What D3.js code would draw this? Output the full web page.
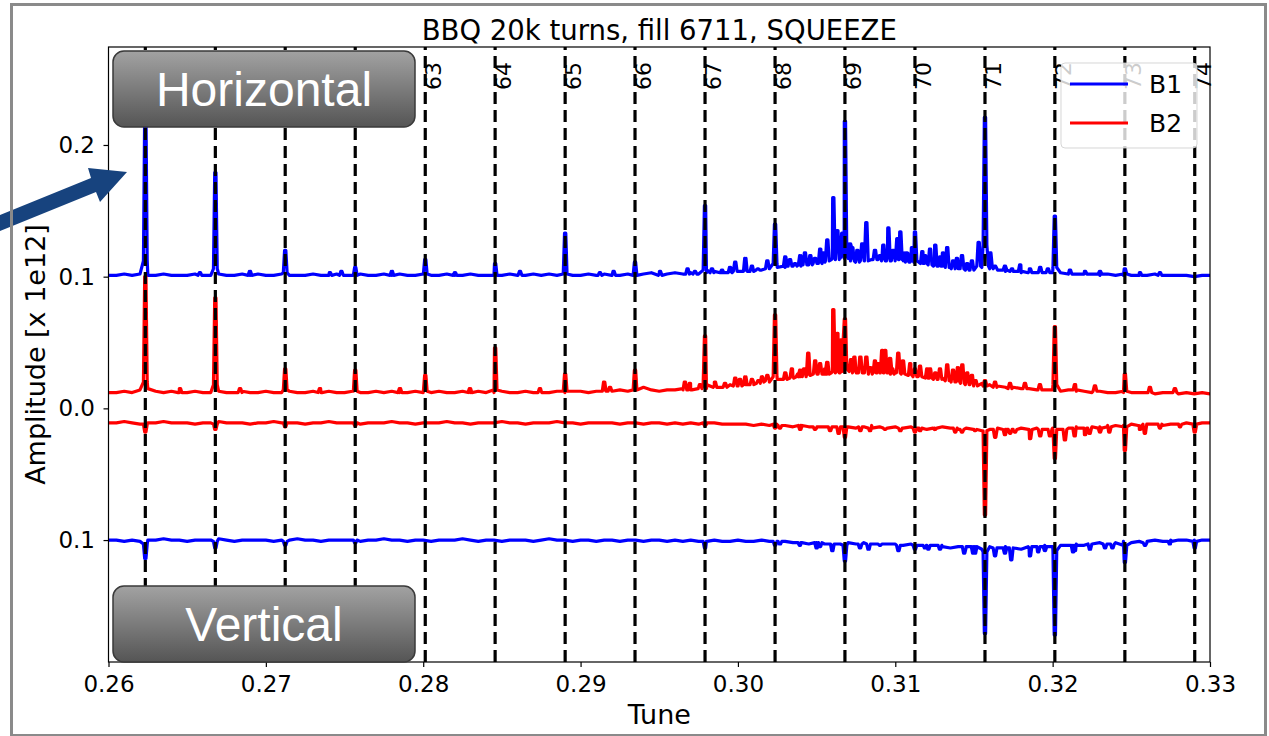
<!DOCTYPE html>
<html>
<head>
<meta charset="utf-8">
<script src="https://cdn.jsdelivr.net/npm/d3@7"></script>
<style>
  body { margin: 0; background: #fff; }
  svg { display: block; }
</style>
</head>
<body>
<svg id="chart" width="1269" height="736"></svg>
<script>
// ---------------------------------------------------------------
// BBQ spectra, 20k turns, fill 6711, SQUEEZE
// Amplitudes below are stored in thousandths of the axis unit (x 1e12).
// Horizontal traces sit around +0.1 (B1) and +0.013 (B2); vertical
// traces are drawn downward around -0.011 (B2) and -0.1 (B1).
// ---------------------------------------------------------------

// frequency bins of the spectrum (tune)
const tuneStart = 0.26, tuneStep = 0.0005, binCount = 141;
const tuneBins = d3.range(binCount).map(i => +(tuneStart + i * tuneStep).toFixed(4));

// 50 Hz harmonic lines and their harmonic numbers
const harmonicTunes  = [0.26234, 0.26679, 0.27123, 0.27568, 0.28013, 0.28457, 0.28902, 0.29346,
                        0.29791, 0.30236, 0.30680, 0.31125, 0.31570, 0.32014, 0.32459, 0.32903];
const harmonicLabels = [59, 60, 61, 62, 63, 64, 65, 66, 67, 68, 69, 70, 71, 72, 73, 74];

const xTicks = [0.26, 0.27, 0.28, 0.29, 0.30, 0.31, 0.32, 0.33];
const yTicks = [0.2, 0.1, 0.0, -0.1];

// --- B1 horizontal: background level per bin
const b1HBase = [
  101,101,102,101,102,101,101,102,101,101,
  101,102,101,101,102,101,101,102,101,102,
  101,101,102,101,101,101,102,101,101,102,
  101,101,102,101,101,102,101,102,101,101,
  102,101,101,102,101,101,102,101,101,102,
  101,102,101,101,102,101,102,101,102,101,
  101,102,101,102,101,101,102,101,102,103,
  102,102,103,102,103,102,103,104,103,104,
  104,105,104,105,106,107,107,108,108,109,
  111,112,114,115,114,113,114,113,114,115,
  114,113,112,111,111,109,108,107,106,106,
  105,107,106,105,104,104,103,104,103,103,
  103,103,102,102,102,102,101,102,101,101,
  101,101,101,102,101,101,101,101,100,101,101
];
// narrow lines: [tune, foot, top]
const b1HSpikes = [
  [0.26234,112,226],[0.26679,106,179],[0.27123,103,120],[0.27568,101,107],
  [0.28013,102,113],[0.28457,101,110],[0.28902,102,133],[0.29346,101,111],
  [0.29791,105,154],[0.30236,110,140],[0.30680,116,218],[0.31125,112,134],
  [0.31570,124,221],[0.32014,107,146],[0.32459,102,106],
  [0.26581,101,103],[0.26899,101,104],[0.27407,101,103],[0.2748,101,104],
  [0.27801,101,104],[0.28202,101,103],[0.28615,101,104],[0.29123,101,103],
  [0.2921,101,104],[0.29505,101,104],[0.2968,102,106],[0.29727,102,104],
  [0.29835,103,106],[0.29899,103,105],[0.29950,103,107],[0.29983,104,111],
  [0.30047,104,114],[0.30089,104,108],[0.30127,105,106],[0.30187,106,112],
  [0.30301,108,115],[0.30331,108,113],[0.30363,108,110],[0.30396,109,116],
  [0.30426,109,118],[0.30460,109,116],[0.30490,110,114],[0.30523,110,121],
  [0.30541,111,118],[0.30568,112,128],[0.30606,113,160],[0.30632,113,135],
  [0.30663,114,133],[0.30712,114,125],[0.30727,112,122],[0.30759,111,120],
  [0.30790,112,125],[0.30816,112,141],[0.30871,113,120],[0.30903,113,116],
  [0.30924,112,124],[0.30956,112,137],[0.30987,112,120],[0.31013,113,129],
  [0.31032,113,134],[0.31062,112,118],[0.31076,111,118],[0.31106,111,122],
  [0.31172,110,119],[0.31189,110,116],[0.31221,109,121],[0.31254,108,124],
  [0.31286,108,115],[0.31303,108,118],[0.31330,107,122],[0.31368,106,112],
  [0.31392,106,114],[0.31424,106,116],[0.31457,105,110],[0.31487,105,112],
  [0.31530,108,126],[0.31604,108,118],[0.31634,106,108],[0.31697,105,108],
  [0.31742,104,106],[0.31794,104,109],[0.31856,103,106],[0.31921,103,107],
  [0.31970,103,106],[0.32110,102,105],[0.32206,102,104],[0.32301,102,104],
  [0.32555,101,103],[0.32682,101,103]
];

// --- B2 horizontal
const b2HBase = [
  12,12,13,12,14,15,13,12,13,12,
  12,13,12,12,13,12,12,13,12,12,
  13,12,12,13,12,12,13,12,13,12,
  12,13,12,12,13,12,13,12,12,13,
  12,12,13,12,12,13,12,13,12,12,
  13,12,12,13,12,13,12,13,12,13,
  13,12,13,14,13,14,13,15,16,14,
  13,14,14,15,14,16,15,17,16,18,
  19,18,20,21,20,22,23,24,25,26,
  27,26,28,27,29,28,27,29,28,27,
  28,27,26,25,25,24,23,22,21,21,
  20,19,18,17,16,16,15,15,14,14,
  14,13,14,13,13,12,13,12,12,12,
  12,12,12,11,12,12,11,12,11,12,11
];
const b2HSpikes = [
  [0.26234,20,100],[0.26679,18,84],[0.27123,14,30],[0.27568,13,29],
  [0.28013,13,25],[0.28457,14,46],[0.28902,13,26],[0.29346,14,29],
  [0.29791,18,55],[0.30236,24,71],[0.30680,30,68],[0.31125,24,30],
  [0.31570,17,21],[0.32014,18,62],[0.32459,13,26],
  [0.26454,12,15],[0.26836,12,15],[0.27344,12,15],[0.27852,12,15],
  [0.28297,12,15],[0.28742,12,15],[0.2915,13,20],[0.29187,13,16],
  [0.29663,14,20],[0.29695,14,19],[0.29759,15,18],[0.29854,16,20],
  [0.29918,16,19],[0.29983,17,23],[0.30013,17,22],[0.30047,18,24],
  [0.30089,18,22],[0.30130,19,21],[0.30153,20,24],[0.30187,21,25],
  [0.30301,22,27],[0.30343,23,30],[0.30382,24,26],[0.30396,24,29],
  [0.30421,24,30],[0.30447,25,42],[0.30491,26,36],[0.30522,26,34],
  [0.30554,26,30],[0.30568,26,35],[0.30606,27,75],[0.30632,27,57],
  [0.30650,28,52],[0.30665,28,52],[0.30719,28,37],[0.30740,27,39],
  [0.30778,27,39],[0.30816,27,39],[0.30841,26,31],[0.30871,27,36],
  [0.30890,27,34],[0.30917,27,44],[0.30936,27,44],[0.30967,27,38],
  [0.30981,26,30],[0.31019,27,42],[0.31049,26,36],[0.31095,25,34],
  [0.31157,24,32],[0.31203,23,30],[0.31221,23,30],[0.31254,22,27],
  [0.31284,22,30],[0.31330,21,33],[0.31367,20,29],[0.31398,20,31],
  [0.31426,19,33],[0.31457,18,27],[0.31487,18,25],[0.31510,17,21],
  [0.31634,16,20],[0.31729,15,19],[0.31824,15,19],[0.31919,14,18],
  [0.32142,14,18],[0.32269,13,17],[0.32618,12,16],[0.32777,12,15]
];

// --- B2 vertical (drawn downward)
const b2VBase = [
  -11,-11,-10,-11,-12,-11,-11,-10,-11,-11,
  -11,-12,-11,-11,-10,-11,-11,-11,-12,-11,
  -11,-10,-11,-11,-11,-12,-11,-11,-10,-11,
  -11,-11,-12,-11,-11,-11,-10,-11,-11,-12,
  -11,-11,-11,-10,-11,-11,-12,-11,-11,-11,
  -10,-11,-11,-12,-11,-11,-11,-10,-11,-11,
  -12,-11,-11,-11,-11,-12,-11,-11,-12,-11,
  -11,-12,-11,-12,-11,-12,-12,-11,-12,-12,
  -12,-12,-13,-12,-13,-14,-13,-14,-13,-14,
  -15,-14,-14,-15,-14,-15,-14,-13,-14,-15,
  -14,-15,-14,-15,-16,-15,-14,-15,-16,-15,
  -16,-17,-16,-15,-16,-17,-15,-16,-15,-16,
  -15,-16,-15,-14,-15,-14,-14,-13,-13,-13,
  -12,-13,-12,-12,-13,-12,-12,-11,-12,-11,-11
];
const b2VSpikes = [
  [0.26234,-12,-18],[0.26679,-12,-16],[0.27123,-11,-14],[0.27568,-11,-13],
  [0.29791,-11,-13],[0.30236,-12,-15],[0.30680,-14,-22],[0.31125,-15,-18],
  [0.31570,-17,-81],[0.32014,-16,-38],[0.32459,-14,-32],[0.32903,-12,-18],
  [0.30267,-13,-15],[0.30396,-13,-16],[0.30490,-14,-16],[0.30586,-14,-17],
  [0.30640,-14,-19],[0.30778,-14,-17],[0.30840,-15,-17],[0.30935,-15,-16],
  [0.31032,-15,-17],[0.31157,-15,-17],[0.31252,-15,-16],[0.31381,-15,-18],
  [0.31424,-16,-18],[0.31507,-16,-17],[0.31635,-16,-22],[0.31697,-16,-20],
  [0.31730,-16,-19],[0.31761,-16,-18],[0.31857,-16,-23],[0.31921,-16,-21],
  [0.31983,-16,-21],[0.32078,-16,-24],[0.32140,-15,-21],[0.32206,-15,-20],
  [0.32235,-15,-19],[0.32301,-15,-18],[0.32360,-14,-18],[0.32555,-13,-16],
  [0.32586,-12,-19],[0.32682,-12,-15],[0.32809,-12,-14]
];

// --- B1 vertical (drawn downward)
const b1VBase = [
  -100,-100,-101,-100,-101,-100,-100,-99,-100,-100,
  -101,-100,-100,-100,-99,-100,-101,-100,-100,-100,
  -100,-101,-100,-100,-99,-100,-100,-101,-100,-100,
  -100,-100,-101,-100,-100,-99,-100,-100,-101,-100,
  -100,-101,-100,-100,-100,-99,-100,-101,-100,-100,
  -101,-100,-100,-100,-101,-100,-99,-100,-100,-101,
  -100,-100,-101,-100,-100,-101,-100,-100,-101,-100,
  -100,-101,-100,-101,-100,-101,-101,-100,-101,-101,
  -100,-101,-101,-100,-101,-102,-101,-102,-102,-103,
  -102,-103,-104,-103,-102,-103,-102,-103,-104,-103,
  -103,-104,-103,-104,-105,-104,-105,-106,-105,-106,
  -106,-107,-105,-106,-105,-106,-107,-106,-105,-104,
  -105,-104,-104,-103,-104,-103,-102,-103,-102,-101,
  -102,-101,-101,-100,-101,-100,-100,-100,-100,-100,-100
];
const b1VSpikes = [
  [0.26234,-103,-114],[0.26679,-101,-106],[0.27123,-101,-104],[0.27568,-100,-102],
  [0.29791,-101,-106],[0.30236,-101,-104],[0.30680,-104,-116],[0.31125,-104,-107],
  [0.31570,-109,-171],[0.32014,-108,-172],[0.32459,-104,-117],[0.32903,-101,-106],
  [0.30267,-101,-103],[0.30394,-102,-104],[0.30500,-102,-106],[0.30522,-102,-105],
  [0.30600,-103,-108],[0.30776,-103,-106],[0.30830,-103,-107],[0.30903,-103,-104],
  [0.31020,-104,-108],[0.31189,-104,-106],[0.31210,-104,-107],[0.31284,-104,-107],
  [0.31438,-105,-110],[0.31495,-105,-110],[0.31507,-105,-110],[0.31634,-106,-112],
  [0.31697,-106,-110],[0.31737,-106,-115],[0.31856,-105,-112],[0.31908,-105,-109],
  [0.31951,-105,-108],[0.32130,-104,-109],[0.32142,-104,-108],[0.32237,-103,-107],
  [0.32333,-103,-106],[0.32380,-103,-106],[0.32587,-102,-104],[0.32745,-101,-103]
];

const legendNames = ["B1", "B2"];
const beamColors = { B1: "#0000ff", B2: "#ff0000" };

// ---------------------------------------------------------------
const svg = d3.select("#chart");
const W = 1269, H = 736;
const plot = { left: 108.5, right: 1210, top: 47, bottom: 662 };

const x = d3.scaleLinear().domain([0.26, 0.33]).range([plot.left, plot.right]);
const y = d3.scaleLinear().domain([-0.1926, 0.2744]).range([plot.bottom, plot.top]);

// a spike spans a couple of FFT bins around its centre
const binWidth = 0.00008;
function buildTrace(base, spikes) {
  const pts = tuneBins.map((t, i) => [t, base[i]]);
  spikes.forEach(([t, foot, top]) => {
    pts.push([t - 1.5 * binWidth, foot], [t - 0.5 * binWidth, top],
             [t + 0.5 * binWidth, top], [t + 1.5 * binWidth, foot]);
  });
  pts.sort((a, b) => a[0] - b[0]);
  return pts.map(([t, v]) => [t, v / 1000]);
}

const traces = [
  { beam: "B1", pts: buildTrace(b1HBase, b1HSpikes) },
  { beam: "B2", pts: buildTrace(b2HBase, b2HSpikes) },
  { beam: "B2", pts: buildTrace(b2VBase, b2VSpikes) },
  { beam: "B1", pts: buildTrace(b1VBase, b1VSpikes) }
];

svg.append("rect").attr("width", W).attr("height", H).attr("fill", "#fff");

const defs = svg.append("defs");
defs.append("clipPath").attr("id", "plotClip")
  .append("rect")
  .attr("x", plot.left).attr("y", plot.top)
  .attr("width", plot.right - plot.left).attr("height", plot.bottom - plot.top);

// spectra
const line = d3.line().x(d => x(d[0])).y(d => y(d[1]));
svg.append("g").attr("clip-path", "url(#plotClip)")
  .selectAll("path").data(traces).join("path")
  .attr("d", d => line(d.pts))
  .attr("fill", "none")
  .attr("stroke", d => beamColors[d.beam])
  .attr("stroke-width", 3.2)
  .attr("stroke-linejoin", "round")
  .attr("stroke-linecap", "round");

// harmonic markers
svg.append("g").selectAll("line").data(harmonicTunes).join("line")
  .attr("x1", d => x(d)).attr("x2", d => x(d))
  .attr("y1", plot.bottom).attr("y2", plot.top)
  .attr("stroke", "#000").attr("stroke-width", 3.2)
  .attr("stroke-dasharray", "12,6");

svg.append("g").selectAll("text").data(harmonicTunes).join("text")
  .attr("transform", d => `translate(${x(d) + 16},62) rotate(-90)`)
  .attr("text-anchor", "end")
  .attr("font-family", "DejaVu Sans")
  .attr("font-size", 22)
  .attr("fill", "#000")
  .text((d, i) => harmonicLabels[i]);

// axes
const xAxis = d3.axisBottom(x).tickValues(xTicks).tickFormat(d3.format(".2f")).tickSize(5).tickPadding(9);
const yAxis = d3.axisLeft(y).tickValues(yTicks).tickFormat(d => Math.abs(d).toFixed(1)).tickSize(5).tickPadding(8.5);

const gx = svg.append("g").attr("transform", `translate(0,${plot.bottom})`).call(xAxis);
const gy = svg.append("g").attr("transform", `translate(${plot.left},0)`).call(yAxis);
[gx, gy].forEach(g => {
  g.select(".domain").remove();
  g.selectAll(".tick line").attr("stroke", "#000").attr("stroke-width", 1.2);
  g.selectAll(".tick text").attr("font-family", "DejaVu Sans").attr("font-size", 23).attr("fill", "#000");
});

svg.append("rect")
  .attr("x", plot.left).attr("y", plot.top)
  .attr("width", plot.right - plot.left).attr("height", plot.bottom - plot.top)
  .attr("fill", "none").attr("stroke", "#000").attr("stroke-width", 1.2);

// titles
svg.append("text")
  .attr("x", (plot.left + plot.right) / 2).attr("y", 40)
  .attr("text-anchor", "middle")
  .attr("font-family", "DejaVu Sans").attr("font-size", 27.5)
  .text("BBQ 20k turns, fill 6711, SQUEEZE");

svg.append("text")
  .attr("x", (plot.left + plot.right) / 2).attr("y", 724)
  .attr("text-anchor", "middle")
  .attr("font-family", "DejaVu Sans").attr("font-size", 27)
  .text("Tune");

svg.append("text")
  .attr("transform", `translate(45,${(plot.top + plot.bottom) / 2}) rotate(-90)`)
  .attr("text-anchor", "middle")
  .attr("font-family", "DejaVu Sans").attr("font-size", 27)
  .text("Amplitude [x 1e12]");

// legend
const lg = svg.append("g");
lg.append("rect")
  .attr("x", 1061).attr("y", 63).attr("width", 136).attr("height", 85).attr("rx", 4)
  .attr("fill", "#fff").attr("fill-opacity", 0.8)
  .attr("stroke", "#cccccc").attr("stroke-opacity", 0.8).attr("stroke-width", 1);
legendNames.forEach((name, i) => {
  const ly = 84 + i * 39;
  lg.append("line")
    .attr("x1", 1070).attr("x2", 1128).attr("y1", ly).attr("y2", ly)
    .attr("stroke", beamColors[name]).attr("stroke-width", 3);
  lg.append("text")
    .attr("x", 1149).attr("y", ly + 9)
    .attr("font-family", "DejaVu Sans").attr("font-size", 25)
    .text(name);
});

// plane tags
const grad = defs.append("linearGradient")
  .attr("id", "tagFill").attr("x1", 0).attr("y1", 0).attr("x2", 0).attr("y2", 1);
grad.append("stop").attr("offset", "0%").attr("stop-color", "#a2a2a2");
grad.append("stop").attr("offset", "100%").attr("stop-color", "#555555");

const tags = [
  { text: "Horizontal", x: 113, y: 51 },
  { text: "Vertical", x: 113, y: 586 }
];
const tg = svg.append("g").selectAll("g").data(tags).join("g")
  .attr("transform", d => `translate(${d.x},${d.y})`);
tg.append("rect")
  .attr("width", 302).attr("height", 76).attr("rx", 11)
  .attr("fill", "url(#tagFill)").attr("stroke", "#3a3a3a").attr("stroke-width", 1.5);
tg.append("text")
  .attr("x", 151).attr("y", 55)
  .attr("text-anchor", "middle")
  .attr("font-family", "Liberation Sans").attr("font-size", 48)
  .attr("fill", "#fff")
  .text(d => d.text);

// pointer arrow
svg.append("path")
  .attr("d", "M0,215 L91,178 L88,168 L127,172 L100,202 L96,192 L0,231 Z")
  .attr("fill", "#17437e");

// frame around the figure
svg.append("rect")
  .attr("x", 11.5).attr("y", 4.5).attr("width", 1254).attr("height", 731)
  .attr("fill", "none").attr("stroke", "#8a8a8a").attr("stroke-width", 3);
</script>
</body>
</html>
